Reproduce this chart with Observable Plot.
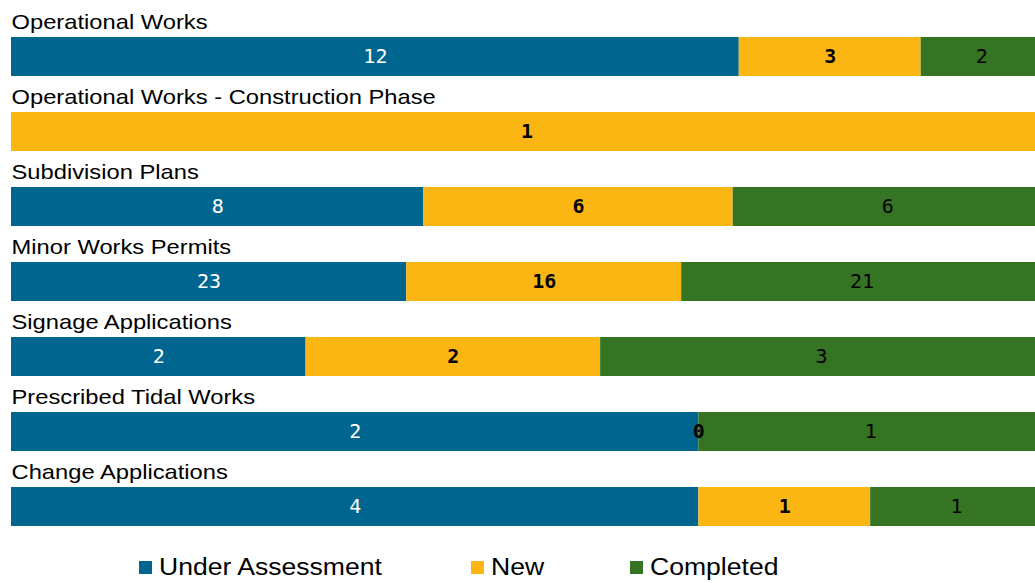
<!DOCTYPE html>
<html><head><meta charset="utf-8">
<script src="https://cdn.jsdelivr.net/npm/d3@7"></script>
<script src="https://cdn.jsdelivr.net/npm/@observablehq/plot@0.6"></script>
<style>
body{margin:0;background:#fff;font-family:"Liberation Sans",Arial,sans-serif;}
#legend{position:relative;height:38px;width:1035px;}
.item{position:absolute;top:0;height:45px;display:flex;align-items:center;}
.sw{width:13px;height:13px;margin-right:7px;flex:none;}
.lab{font-size:23.5px;color:#000;transform:scaleX(1.13);transform-origin:left center;white-space:nowrap;line-height:1;}
</style></head><body><div id="chart"></div><div id="legend"></div>
<script>
const categories = [
  "Operational Works",
  "Operational Works - Construction Phase",
  "Subdivision Plans",
  "Minor Works Permits",
  "Signage Applications",
  "Prescribed Tidal Works",
  "Change Applications"
];
const statuses = ["Under Assessment", "New", "Completed"];
const underAssessment = [12, null, 8, 23, 2, 2, 4];
const newCounts = [3, 1, 6, 16, 2, 0, 1];
const completed = [2, null, 6, 21, 3, 1, 1];
const colors = ["#00668F", "#FCB614", "#347422"];

const series = [underAssessment, newCounts, completed];
const rows = [];
categories.forEach((c, i) => {
  statuses.forEach((s, j) => {
    const v = series[j][i];
    if (v !== null) rows.push({category: c, status: s, value: v});
  });
});

const labelFont = '"DejaVu Sans Mono", monospace';
const lab = (status, fill, weight) => Plot.text(rows, Plot.stackX({
  x: "value", y: "category", offset: "normalize",
  text: d => d.status === status ? String(d.value) : "",
  fill, fontFamily: labelFont, fontSize: 20, fontWeight: weight
}));

const chart = Plot.plot({
  width: 1035, height: 545, margin: 0,
  style: {background: "#fff", fontFamily: '"Liberation Sans", Arial, sans-serif'},
  x: {domain: [0, 1], range: [11, 1042], axis: null},
  y: {domain: categories, range: [36, 527], paddingInner: 0.482, paddingOuter: 0, axis: null},
  color: {domain: statuses, range: colors},
  marks: [
    Plot.barX(rows, Plot.stackX({x: "value", y: "category", fill: "status", offset: "normalize"})),
    lab("Under Assessment", "white", "normal"),
    lab("New", "black", "bold"),
    lab("Completed", "black", "normal"),
    Plot.text(categories, {
      x: () => 0, y: d => d, text: d => d, textAnchor: "start", lineAnchor: "bottom",
      dy: -28, fontSize: 21, fill: "black"
    })
  ]
});
document.getElementById("chart").appendChild(chart);
d3.select(chart).selectAll("text").each(function () {
  if (!categories.includes(this.textContent)) return;
  const w = this.getComputedTextLength();
  this.setAttribute("textLength", (w * 1.13).toFixed(1));
  this.setAttribute("lengthAdjust", "spacingAndGlyphs");
});

const lefts = [139, 471, 630];
const legend = d3.select("#legend");
statuses.forEach((s, i) => {
  const it = legend.append("div").attr("class", "item").style("left", lefts[i] + "px");
  it.append("div").attr("class", "sw").style("background", colors[i]);
  it.append("span").attr("class", "lab").text(s);
});
</script>
</body></html>
